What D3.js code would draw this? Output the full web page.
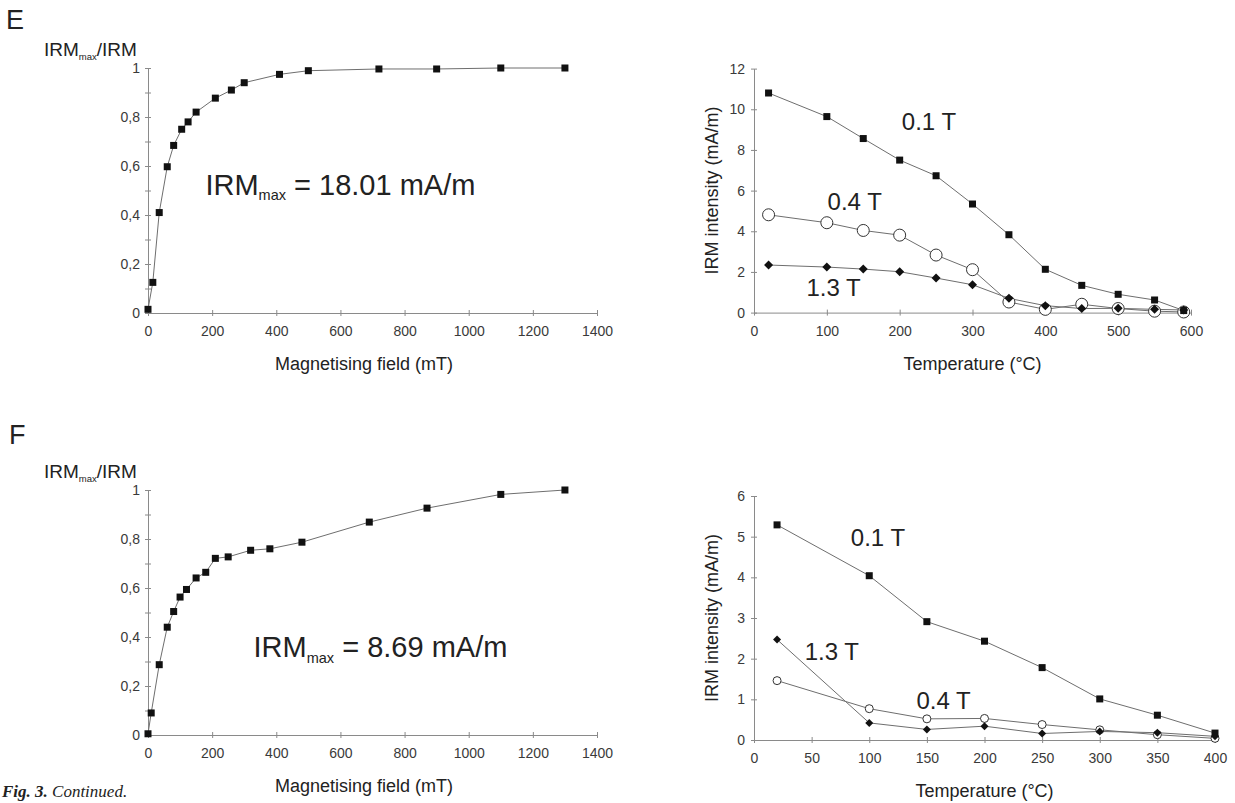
<!DOCTYPE html>
<html>
<head>
<meta charset="utf-8">
<script src="https://cdn.jsdelivr.net/npm/d3@7"></script>
<style>
  body { margin: 0; background: #fff; }
  svg { display: block; font-family: "Liberation Sans", Arial, sans-serif; }
  .axis path, .axis line { stroke: #8a8a8a; }
  .axis text { fill: #3a3a3a; font-size: 14px; font-family: "Liberation Sans", Arial, sans-serif; }
  .series { fill: none; stroke: #6e6e6e; stroke-width: 1; }
</style>
</head>
<body>
<svg width="1235" height="803"></svg>
<script>
// panel E - IRM acquisition
let fieldE = [0, 15, 35, 60, 80, 105, 125, 150, 210, 260, 300, 410, 500, 720, 900, 1100, 1300];
let ratioE = [0.015, 0.125, 0.41, 0.597, 0.684, 0.75, 0.78, 0.82, 0.877, 0.91, 0.94, 0.974, 0.989, 0.996, 0.996, 1.0, 1.0];

// panel E - thermal demagnetisation
let tempE = [20, 100, 150, 200, 250, 300, 350, 400, 450, 500, 550, 590];
let e01 = [10.8, 9.64, 8.56, 7.5, 6.73, 5.34, 3.83, 2.13, 1.34, 0.9, 0.62, 0.1];
let e04 = [4.81, 4.42, 4.04, 3.81, 2.83, 2.11, 0.52, 0.16, 0.41, 0.2, 0.07, 0.03];
let e13 = [2.34, 2.24, 2.14, 2.01, 1.7, 1.37, 0.7, 0.34, 0.2, 0.21, 0.16, 0.13];

// panel F - IRM acquisition
let fieldF = [0, 10, 35, 60, 80, 100, 120, 150, 180, 210, 250, 320, 380, 480, 690, 870, 1100, 1300];
let ratioF = [0.005, 0.09, 0.287, 0.44, 0.504, 0.563, 0.594, 0.641, 0.664, 0.721, 0.727, 0.754, 0.76, 0.787, 0.869, 0.926, 0.982, 1.0];

// panel F - thermal demagnetisation
let tempF = [20, 100, 150, 200, 250, 300, 350, 400];
let f01 = [5.29, 4.04, 2.91, 2.43, 1.78, 1.01, 0.61, 0.17];
let f04 = [1.46, 0.77, 0.52, 0.53, 0.38, 0.25, 0.13, 0.04];
let f13 = [2.47, 0.42, 0.26, 0.34, 0.16, 0.21, 0.18, 0.09];

let fieldTicks = [0, 200, 400, 600, 800, 1000, 1200, 1400];
let ratioTicks = d3.range(0, 11).map(i => i / 10);

var svg = d3.select("svg");
let plain = d3.format("d");

function zip(xs, ys) {
    return xs.map((x, i) => [x, ys[i]]);
}

function crossTicks(axisG, horizontal) {
    // excel style ticks that cross the axis line
    if (horizontal) axisG.selectAll(".tick line").attr("y1", -3).attr("y2", 3);
    else axisG.selectAll(".tick line").attr("x1", -3).attr("x2", 3);
}

function letter(txt, x, y) {
    svg.append("text").attr("x", x).attr("y", y)
        .style("font-size", "27px").style("fill", "#222").text(txt);
}

function irmLabel(g, x, y, size, rest) {
    let t = g.append("text").attr("x", x).attr("y", y)
        .style("font-size", size + "px").style("fill", "#222");
    t.append("tspan").text("IRM");
    t.append("tspan").text("max").style("font-size", (size * 0.5) + "px").attr("dy", size * 0.2);
    t.append("tspan").text(rest).attr("dy", -size * 0.2);
    return t;
}

function acquisitionPanel(top, fields, ratios, note) {
    let x = d3.scaleLinear().domain([0, 1400]).range([148, 597]);
    let y = d3.scaleLinear().domain([0, 1]).range([top + 245, top]);
    let g = svg.append("g");

    let xa = g.append("g").attr("class", "axis")
        .attr("transform", `translate(0,${y(0)})`)
        .call(d3.axisBottom(x).tickValues(fieldTicks).tickFormat(plain)
            .tickSize(3).tickSizeOuter(0).tickPadding(10));
    crossTicks(xa, true);

    let ya = g.append("g").attr("class", "axis")
        .attr("transform", `translate(${x(0)},0)`)
        .call(d3.axisLeft(y).tickValues(ratioTicks).tickSize(3).tickSizeOuter(0).tickPadding(5)
            .tickFormat(d => {
                let k = Math.round(d * 10);
                if (k % 2) return "";
                return k === 0 ? "0" : k === 10 ? "1" : "0," + k;
            }));
    crossTicks(ya, false);

    g.append("path").attr("class", "series")
        .attr("d", d3.line().x(d => x(d[0])).y(d => y(d[1]))(zip(fields, ratios)));

    g.selectAll(".sq").data(zip(fields, ratios)).enter().append("rect")
        .attr("x", d => x(d[0]) - 3.5).attr("y", d => y(d[1]) - 3.5)
        .attr("width", 7).attr("height", 7).style("fill", "#111");

    // axis titles
    irmLabel(g, 44, top - 12, 19, "/IRM");
    g.append("text").attr("x", 364).attr("y", y(0) + 57)
        .attr("text-anchor", "middle").style("font-size", "18px").style("fill", "#222")
        .text("Magnetising field (mT)");

    irmLabel(g, x(note.at[0]), y(note.at[1]), 29, note.text);
}

function thermalPanel(top, opts) {
    let x = d3.scaleLinear().domain([0, opts.xmax]).range([754, opts.xRight]);
    let y = d3.scaleLinear().domain([0, opts.ymax]).range([top + 244, top]);
    let g = svg.append("g");

    let xa = g.append("g").attr("class", "axis")
        .attr("transform", `translate(0,${y(0)})`)
        .call(d3.axisBottom(x).tickValues(opts.xticks).tickFormat(plain)
            .tickSize(3).tickSizeOuter(0).tickPadding(10));
    crossTicks(xa, true);

    let ya = g.append("g").attr("class", "axis")
        .attr("transform", `translate(${x(0)},0)`)
        .call(d3.axisLeft(y).tickValues(opts.yticks).tickFormat(plain)
            .tickSize(3).tickSizeOuter(0).tickPadding(6));
    crossTicks(ya, false);

    let line = d3.line().x(d => x(d[0])).y(d => y(d[1]));
    let s01 = zip(opts.temps, opts.s01), s04 = zip(opts.temps, opts.s04), s13 = zip(opts.temps, opts.s13);
    [s04, s13, s01].forEach(s => g.append("path").attr("class", "series").attr("d", line(s)));

    g.selectAll(".circ").data(s04).enter().append("circle")
        .attr("cx", d => x(d[0])).attr("cy", d => y(d[1])).attr("r", opts.circleR)
        .style("fill", "#fff").style("stroke", "#333").style("stroke-width", 1);

    let r = opts.diamondR;
    g.selectAll(".dia").data(s13).enter().append("path")
        .attr("d", `M0,${-r}L${r},0L0,${r}L${-r},0Z`)
        .attr("transform", d => `translate(${x(d[0])},${y(d[1])})`)
        .style("fill", "#111");

    g.selectAll(".sq").data(s01).enter().append("rect")
        .attr("x", d => x(d[0]) - 3.5).attr("y", d => y(d[1]) - 3.5)
        .attr("width", 7).attr("height", 7).style("fill", "#111");

    opts.labels.forEach(l => {
        g.append("text").attr("x", x(l.at[0])).attr("y", y(l.at[1]))
            .style("font-size", "24px").style("fill", "#222").text(l.text);
    });

    g.append("text")
        .attr("transform", `translate(718,${(y(0) + y(opts.ymax)) / 2}) rotate(-90)`)
        .attr("text-anchor", "middle").style("font-size", "18px").style("fill", "#222")
        .text("IRM intensity (mA/m)");

    g.append("text").attr("x", (x(0) + x(opts.xmax)) / 2).attr("y", y(0) + 57)
        .attr("text-anchor", "middle").style("font-size", "18px").style("fill", "#222")
        .text("Temperature (°C)");
}

letter("E", 6, 29);
letter("F", 9, 444);

acquisitionPanel(68, fieldE, ratioE, { at: [179, 0.483], text: " = 18.01 mA/m" });
acquisitionPanel(490, fieldF, ratioF, { at: [329, 0.318], text: " = 8.69 mA/m" });

thermalPanel(68.6, {
    xmax: 600, xRight: 1191, ymax: 12,
    xticks: d3.range(0, 601, 100), yticks: d3.range(0, 13, 2),
    temps: tempE, s01: e01, s04: e04, s13: e13,
    circleR: 6, diamondR: 4.5,
    labels: [
        { text: "0.1 T", at: [203, 8.97] },
        { text: "0.4 T", at: [101, 5.07] },
        { text: "1.3 T", at: [72, 0.82] }
    ]
});

thermalPanel(496, {
    xmax: 400, xRight: 1215, ymax: 6,
    xticks: d3.range(0, 401, 50), yticks: d3.range(0, 7, 1),
    temps: tempF, s01: f01, s04: f04, s13: f13,
    circleR: 4, diamondR: 4,
    labels: [
        { text: "0.1 T", at: [84, 4.77] },
        { text: "1.3 T", at: [44, 1.97] },
        { text: "0.4 T", at: [141, 0.77] }
    ]
});

// figure caption at the bottom-left corner
let cap = svg.append("text").attr("x", 2).attr("y", 797)
    .style("font-family", "'Liberation Serif', 'Times New Roman', serif")
    .style("font-size", "17px").style("fill", "#222");
cap.append("tspan").text("Fig. 3. ").style("font-weight", "bold").style("font-style", "italic");
cap.append("tspan").text("Continued.").style("font-style", "italic");
</script>
</body>
</html>
